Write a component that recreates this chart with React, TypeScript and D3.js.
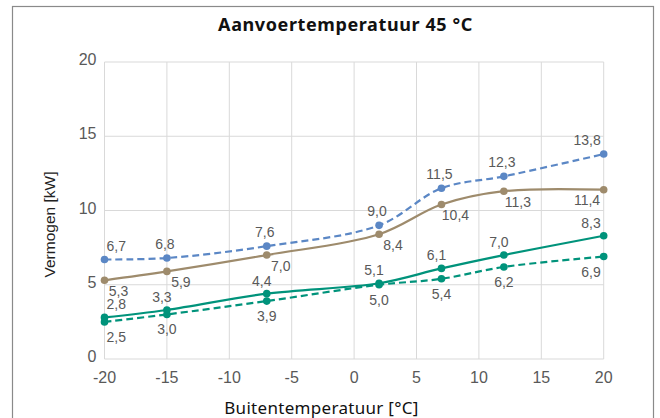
import * as d3 from 'd3';

const width = 660,
	height = 418;

const margin = { left: 104.5, right: 56.3, top: 62, bottom: 59 };

// buitentemperatuur (°C)
const temps = [-20, -15, -7, 2, 7, 12, 20];

// vermogen in kW per reeks
const blueValues = [6.7, 6.8, 7.6, 9.0, 11.5, 12.3, 13.8];
const brownValues = [5.3, 5.9, 7.0, 8.4, 10.4, 11.3, 11.4];
const tealSolidValues = [2.8, 3.3, 4.4, 5.1, 6.1, 7.0, 8.3];
const tealDashedValues = [2.5, 3.0, 3.9, 5.0, 5.4, 6.2, 6.9];

const xTicks = [-20, -15, -10, -5, 0, 5, 10, 15, 20];
const yTicks = [0, 5, 10, 15, 20];

const title = 'Aanvoertemperatuur 45 °C';
const xTitle = 'Buitentemperatuur [°C]';
const yTitle = 'Vermogen [kW]';

const series = [
	{ name: 'blue', values: blueValues, color: '#5b87c5', dash: '7,4', dx: -2, dy: -9 },
	{ name: 'brown', values: brownValues, color: '#9e8b6c', dash: null, dx: 14, dy: 15.5 },
	{ name: 'tealSolid', values: tealSolidValues, color: '#00937b', dash: null, dx: -5, dy: -8 },
	{ name: 'tealDashed', values: tealDashedValues, color: '#00937b', dash: '7,4', dx: 0, dy: 20 },
];

const labelFont = 'Liberation Sans, Arial, sans-serif';
const titleFont = 'Noto Sans, DejaVu Sans, sans-serif';

const fmt = (v: number) => v.toFixed(1).replace('.', ',');
const textWidth = (s: string) =>
	s.split('').reduce((acc, c) => acc + (c === ',' ? 3.9 : 7.8), 0);

export default function App() {
	const x = d3
		.scaleLinear()
		.domain([-20, 20])
		.range([margin.left, width - margin.right]);
	const y = d3
		.scaleLinear()
		.domain([0, 20])
		.range([height - margin.bottom, margin.top]);

	const line = d3
		.line<number>()
		.x((_, i) => x(temps[i]))
		.y((d) => y(d))
		.curve(d3.curveCatmullRom.alpha(0.5));

	const [x0, x1] = x.range();
	const [y0, y1] = y.range();

	return (
		<svg
			width={width}
			height={height}
			style={{ position: 'absolute', left: 0, top: 0, background: '#fff' }}
		>
			<rect x={0} y={0} width={width} height={height} fill="#fff" />
			<rect
				x={12.5}
				y={6.5}
				width={641}
				height={430}
				fill="none"
				stroke="#8a8a8a"
				strokeWidth={1.2}
			/>
			<text
				x={345.5}
				y={31}
				textAnchor="middle"
				fontFamily={titleFont}
				fontWeight="bold"
				fontSize={18}
				letterSpacing={0.6}
				fill="#111"
			>
				{title}
			</text>

			{/* grid */}
			<g stroke="#d9d9d9" strokeWidth={1}>
				{xTicks.map((t) => (
					<line key={'gx' + t} x1={x(t)} x2={x(t)} y1={y1} y2={y0} />
				))}
				{yTicks.map((t) => (
					<line key={'gy' + t} x1={x0} x2={x1} y1={y(t)} y2={y(t)} />
				))}
			</g>

			{/* ticks */}
			<g fontFamily={labelFont} fontSize={16} fill="#595959">
				{yTicks.map((t) => (
					<text key={'ty' + t} x={x0 - 8} y={y(t) + 3} textAnchor="end">
						{t}
					</text>
				))}
				{xTicks.map((t) => (
					<text key={'tx' + t} x={x(t)} y={383} textAnchor="middle">
						{t}
					</text>
				))}
			</g>

			<text
				x={321.5}
				y={414}
				textAnchor="middle"
				fontFamily={titleFont}
				fontSize={17}
				letterSpacing={0.3}
				fill="#111"
			>
				{xTitle}
			</text>
			<text
				transform={`translate(55, ${(y0 + y1) / 2 + 14}) rotate(-90)`}
				textAnchor="middle"
				fontFamily={labelFont}
				fontSize={15.5}
				fill="#222"
			>
				{yTitle}
			</text>

			{/* lines */}
			{series.map((s) => (
				<g key={s.name}>
					<path
						d={line(s.values)!}
						fill="none"
						stroke={s.color}
						strokeWidth={2.2}
						strokeDasharray={s.dash ?? undefined}
					/>
					{s.values.map((v, i) => (
						<circle key={i} cx={x(temps[i])} cy={y(v)} r={3.8} fill={s.color} />
					))}
				</g>
			))}

			{/* data labels */}
			<g fontFamily={labelFont} fontSize={14} fill="#595959">
				{series.map((s) =>
					s.values.map((v, i) => {
						const label = fmt(v);
						const half = textWidth(label) / 2;
						const cx = Math.min(
							Math.max(x(temps[i]) + s.dx, x0 + half + 2),
							x1 - half - 3
						);
						return (
							<text
								key={s.name + i}
								x={cx}
								y={y(v) + s.dy}
								textAnchor="middle"
							>
								{label}
							</text>
						);
					})
				)}
			</g>
		</svg>
	);
}
